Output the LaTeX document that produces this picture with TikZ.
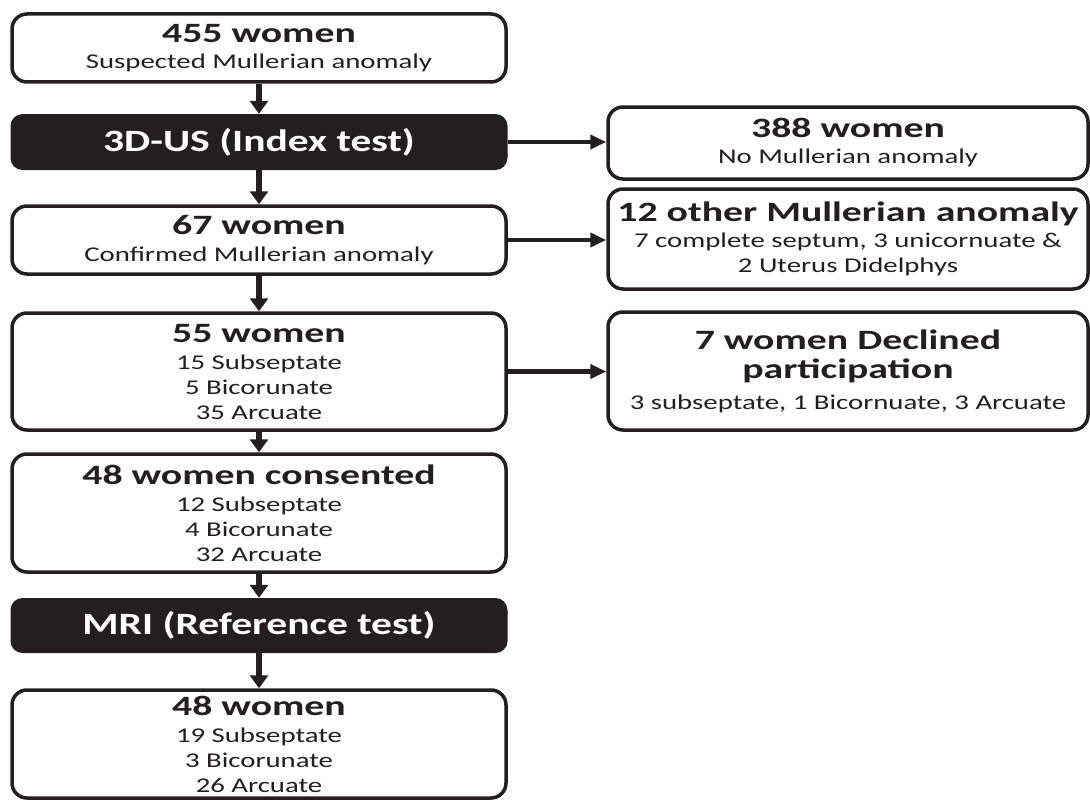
\documentclass[tikz,border=0pt]{standalone}
\usepackage{fontspec}
\setmainfont{Carlito}
\usetikzlibrary{arrows.meta}
\definecolor{ink}{HTML}{231F20}
\newcommand{\hs}[1]{\scalebox{1.37}[1]{#1}}
\newcommand{\htl}[1]{\scalebox{1.42}[1]{\bfseries\fontsize{28}{30}\selectfont #1}}
\newcommand{\hb}[1]{\scalebox{1.34}[1]{#1}}
\begin{document}
\begin{tikzpicture}[x=1pt,y=-1pt,
  wbox/.style={draw=ink, line width=3.5pt, rounded corners=15pt, fill=white, inner sep=0pt,
    align=center, text=ink, font=\fontsize{21}{25}\selectfont},
  lbox/.style={wbox, minimum width=494pt},
  rbox/.style={wbox, minimum width=480pt},
  bbox/.style={fill=ink, rounded corners=12pt, text=white, inner sep=0pt, minimum width=497pt,
    font=\bfseries\fontsize{31}{34}\selectfont},
  varr/.style={draw=ink, line width=6pt, -{Triangle[length=13pt,width=18pt]}},
  harr/.style={draw=ink, line width=4.5pt, -{Triangle[length=16pt,width=14pt]}}]
\useasboundingbox (0,0) rectangle (1090,800);

\node[lbox, minimum height=68pt] (b1) at (259,48) {\htl{455 women}\\[1pt] \hs{Suspected Mullerian anomaly}};
\node[bbox, minimum height=56pt] (us) at (259,142) {\hb{3D-US (Index test)}};
\node[lbox, minimum height=68pt] (b3) at (259,240) {\htl{67 women}\\[2pt] \hs{Confirmed Mullerian anomaly}};
\node[lbox, minimum height=117pt] (b4) at (259,371.5) {\htl{55 women}\\[2pt] \hs{15 Subseptate}\\ \hs{5 Bicorunate}\\ \hs{35 Arcuate}};
\node[lbox, minimum height=118pt] (b5) at (259,513) {\htl{48 women consented}\\[2pt] \hs{12 Subseptate}\\ \hs{4 Bicorunate}\\ \hs{32 Arcuate}};
\node[bbox, minimum height=55pt] (mri) at (259,625.5) {\hb{MRI (Reference test)}};
\node[lbox, minimum height=108pt] (b7) at (259,744) {\htl{48 women}\\[2pt] \hs{19 Subseptate}\\ \hs{3 Bicorunate}\\ \hs{26 Arcuate}};

\node[rbox, minimum height=72pt] (r1) at (848,143) {\htl{388 women}\\[1pt] \hs{No Mullerian anomaly}};
\node[rbox, minimum height=100pt] (r2) at (848,239) {\htl{12 other Mullerian anomaly}\\[1pt] \hs{7 complete septum, 3 unicornuate \&}\\ \hs{2 Uterus Didelphys}};
\node[rbox, minimum height=118pt] (r3) at (848,371) {\htl{7 women Declined}\\[4pt] \htl{participation}\\[6pt] \hs{3 subseptate, 1 Bicornuate, 3 Arcuate}};

\draw[varr] (b1.south) -- (us.north);
\draw[varr] (us.south) -- (b3.north);
\draw[varr] (b3.south) -- (b4.north);
\draw[varr] (b4.south) -- (b5.north);
\draw[varr] (b5.south) -- (mri.north);
\draw[varr] (mri.south) -- (b7.north);

\draw[harr] (us.east) -- (us.east -| r1.west);
\draw[harr] (b3.east) -- (b3.east -| r2.west);
\draw[harr] (b4.east) -- (b4.east -| r3.west);
\end{tikzpicture}
\end{document}
